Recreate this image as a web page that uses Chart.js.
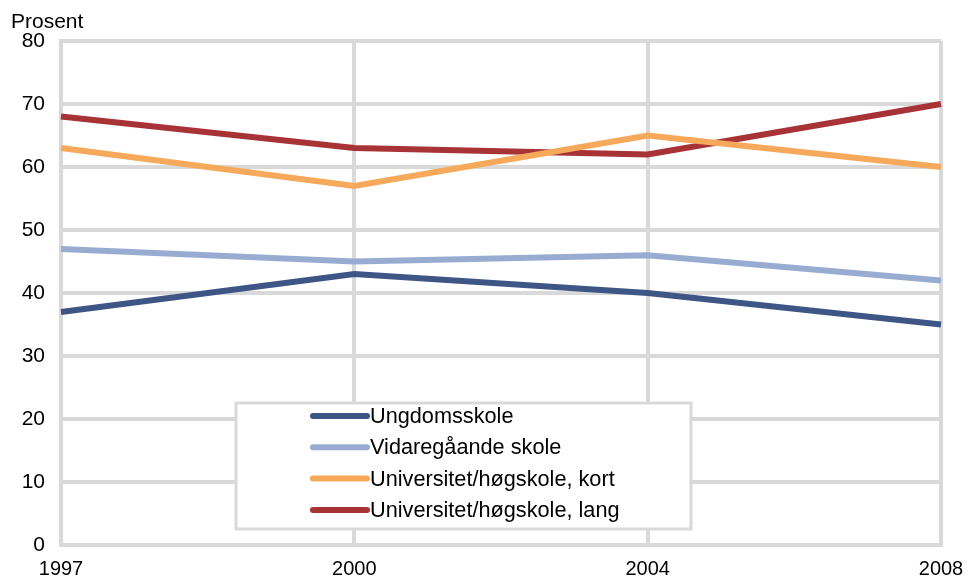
<!DOCTYPE html>
<html>
<head>
<meta charset="utf-8">
<script src="https://cdn.jsdelivr.net/npm/chart.js@4.4.0/dist/chart.umd.min.js"></script>
<style>
  html, body { margin: 0; padding: 0; background: #fff; }
  #wrap { width: 968px; height: 576px; }
</style>
</head>
<body>
<div id="wrap"><canvas id="chart"></canvas></div>
<script>
const years = ['1997', '2000', '2004', '2008'];
const ungdomsskole = [37, 43, 40, 35];
const vidaregaande = [47, 45, 46, 42];
const uniKort = [63, 57, 65, 60];
const uniLang = [68, 63, 62, 70];
const yTicks = [0, 10, 20, 30, 40, 50, 60, 70, 80];

const FONT = 'Liberation Sans, Arial, sans-serif';
const GRID = '#d9d9d9';

// legend box sitting inside the plot, plus the "Prosent" unit label
const legendBox = {
  id: 'legendBox',
  afterDatasetsDraw(chart) {
    const ctx = chart.ctx;
    ctx.save();
    ctx.fillStyle = '#fff';
    ctx.strokeStyle = GRID;
    ctx.lineWidth = 3;
    ctx.fillRect(236, 403, 455, 126);
    ctx.strokeRect(236, 403, 455, 126);
    ctx.font = '21.7px ' + FONT;
    ctx.textBaseline = 'middle';
    chart.data.datasets.forEach((ds, i) => {
      const y = 416 + i * 31.3;
      ctx.strokeStyle = ds.borderColor;
      ctx.lineWidth = 6;
      ctx.lineCap = 'round';
      ctx.beginPath();
      ctx.moveTo(313, y);
      ctx.lineTo(367, y);
      ctx.stroke();
      ctx.fillStyle = '#000';
      ctx.fillText(ds.label, 370, y + 1);
    });
    ctx.restore();
  },
  afterDraw(chart) {
    const ctx = chart.ctx;
    ctx.save();
    ctx.font = '21px ' + FONT;
    ctx.fillStyle = '#000';
    ctx.textBaseline = 'alphabetic';
    ctx.fillText('Prosent', 11, 28);
    ctx.restore();
  }
};

const ln = (label, data, color) => ({
  label, data,
  borderColor: color,
  backgroundColor: color,
  borderWidth: 6,
  pointRadius: 0,
  tension: 0,
  fill: false
});

new Chart(document.getElementById('chart'), {
  type: 'line',
  data: {
    labels: years,
    datasets: [
      ln('Ungdomsskole', ungdomsskole, '#3d5685'),
      ln('Vidaregåande skole', vidaregaande, '#98acd1'),
      ln('Universitet/høgskole, kort', uniKort, '#f7a95b'),
      ln('Universitet/høgskole, lang', uniLang, '#a83336')
    ]
  },
  options: {
    responsive: true,
    maintainAspectRatio: false,
    animation: false,
    layout: { padding: { top: 41, right: 27, left: 0, bottom: 0 } },
    plugins: {
      legend: { display: false },
      tooltip: { enabled: false }
    },
    scales: {
      x: {
        offset: false,
        grid: { color: GRID, lineWidth: 4, drawTicks: false },
        border: { color: GRID, width: 4 },
        ticks: {
          color: '#000', font: { family: FONT, size: 20 },
          padding: 12, maxRotation: 0, autoSkip: false
        },
        afterFit(s) { s.height = 31; s.paddingLeft = 0; s.paddingRight = 0; }
      },
      y: {
        min: 0, max: 80,
        afterBuildTicks(s) { s.ticks = yTicks.map(v => ({ value: v })); },
        grid: { color: GRID, lineWidth: 4, drawTicks: false },
        border: { color: GRID, width: 4 },
        ticks: {
          color: '#000', font: { family: FONT, size: 21 },
          padding: 16
        },
        afterFit(s) { s.width = 61; s.paddingTop = 0; s.paddingBottom = 0; }
      }
    }
  },
  plugins: [legendBox]
});
</script>
</body>
</html>
